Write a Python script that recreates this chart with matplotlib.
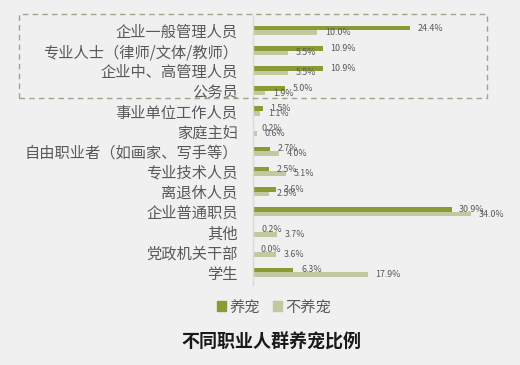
import matplotlib
matplotlib.use('Agg')
import matplotlib.pyplot as plt
from matplotlib.patches import Rectangle, Patch

plt.rcParams['font.family'] = ['Noto Sans CJK SC', 'DejaVu Sans']

# data (percent)
jobs = ['企业一般管理人员', '专业人士（律师/文体/教师）', '企业中、高管理人员', '公务员',
        '事业单位工作人员', '家庭主妇', '自由职业者（如画家、写手等）', '专业技术人员',
        '离退休人员', '企业普通职员', '其他', '党政机关干部', '学生']
pet = [24.4, 10.9, 10.9, 5.0, 1.5, 0.2, 2.7, 2.5, 3.6, 30.9, 0.2, 0.0, 6.3]
no_pet = [10.0, 5.5, 5.5, 1.9, 1.1, 0.6, 4.0, 5.1, 2.5, 34.0, 3.7, 3.6, 17.9]
series_names = ['养宠', '不养宠']

dark = '#8c9a35'
light = '#c3c8a0'
grey = '#595959'

fig = plt.figure(figsize=(5.2, 3.65), dpi=100, facecolor='#f0f0f0')
ax = fig.add_axes([253 / 520, 0.219, 257 / 520, 0.742])
ax.set_facecolor('none')

y = list(range(len(jobs)))
h = 0.23
y1 = [v - h / 2 for v in y]
y2 = [v + h / 2 for v in y]
b1 = ax.barh(y1, pet, height=h, color=dark)
b2 = ax.barh(y2, no_pet, height=h, color=light)

# value labels at bar ends
for yy, v in zip(y1, pet):
    ax.annotate('%.1f%%' % v, (v, yy), xytext=(5.5, 0), textcoords='offset points',
                va='center', ha='left', fontsize=6.4, color=grey)
for yy, v in zip(y2, no_pet):
    ax.annotate('%.1f%%' % v, (v, yy), xytext=(5.5, 0), textcoords='offset points',
                va='center', ha='left', fontsize=6.4, color=grey)

ax.set_xlim(0, 40)
ax.set_ylim(12.64, -0.8)
ax.set_yticks(y)
ax.set_yticklabels(jobs, fontsize=11, color=grey)
ax.tick_params(axis='y', length=0, pad=11)
ax.set_xticks([])
for s in ['top', 'right', 'bottom']:
    ax.spines[s].set_visible(False)
ax.spines['left'].set_color('#d9d9d9')
ax.spines['left'].set_linewidth(1)

# dashed box around the top four groups
box = Rectangle((19 / 520, 1 - 98 / 365), (487 - 19) / 520, (98 - 14) / 365,
                transform=fig.transFigure, fill=False, edgecolor='#a3a38f',
                linestyle=(0, (4, 3)), linewidth=1)
fig.patches.append(box)

handles = [Patch(color=dark), Patch(color=light)]
fig.legend(handles, series_names, loc='center', bbox_to_anchor=(274 / 520, 1 - 307 / 365),
           ncol=2, frameon=False, fontsize=11, handlelength=0.6, handleheight=0.6,
           handletextpad=0.2, columnspacing=0.9, labelcolor=grey)

fig.text(271 / 520, 1 - 342 / 365, '不同职业人群养宠比例', ha='center', va='center',
         fontsize=13, fontweight='bold', color='#1a1a1a')

fig.savefig('out.png', dpi=100, facecolor=fig.get_facecolor())
